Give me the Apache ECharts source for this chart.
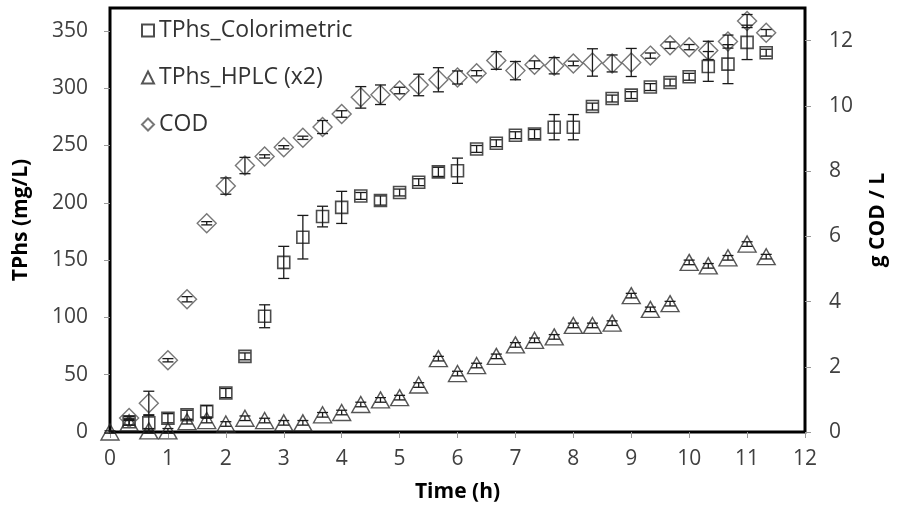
<!DOCTYPE html>
<html>
<head>
<meta charset="utf-8">
<script src="https://cdn.jsdelivr.net/npm/echarts@6/dist/echarts.min.js"></script>
<style>html,body{margin:0;padding:0;background:#fff}#c{width:899px;height:524px}</style>
</head>
<body>
<div id="c"></div>
<script>
// Time (h)
var times = [0,0.33,0.67,1,1.33,1.67,2,2.33,2.67,3,3.33,3.67,4,4.33,4.67,5,5.33,5.67,6,6.33,6.67,7,7.33,7.67,8,8.33,8.67,9,9.33,9.67,10,10.33,10.67,11,11.33];
// TPhs colorimetric (mg/L), from t=0.33
var colorTimes = [0.33,0.67,1,1.33,1.67,2,2.33,2.67,3,3.33,3.67,4,4.33,4.67,5,5.33,5.67,6,6.33,6.67,7,7.33,7.67,8,8.33,8.67,9,9.33,9.67,10,10.33,10.67,11,11.33];
var colorVals = [9,8,12,15,18,34,66,101,148,170,188,196,206,202,209,218,227,228,247,252,259,260,266,266,284,291,294,301,305,310,319,321,340,331];
var colorErr  = [3,7,4,4,5,4,3,10,14,19,9,14,3,4,3,3,4,11,3,3,3,4,11,11,3,3,3,3,3,3,13,17,15,3];
// TPhs HPLC (x2) (mg/L), from t=0
var hplcVals = [0,8,1,1,9,10,7,12,10,8,8,15,17,24,28,30,41,64,51,58,66,76,80,83,93,93,95,119,107,112,148,145,152,164,153];
var hplcErr  = [1,2,2,2,2,2,2,2,2,2,2,2,2,2,2,2,2,2,2,2,2,2,2,2,2,2,2,2,2,2,2,2,2,2,2];
// COD (g/L), from t=0.33
var codVals = [0.43,0.88,2.2,4.07,6.4,7.54,8.17,8.45,8.73,9.02,9.35,9.75,10.26,10.34,10.47,10.64,10.8,10.87,11.0,11.39,11.08,11.26,11.23,11.3,11.33,11.3,11.33,11.54,11.86,11.8,11.7,11.97,12.6,12.24];
var codErr  = [0.05,0.37,0.05,0.08,0.05,0.25,0.25,0.05,0.05,0.05,0.2,0.1,0.33,0.3,0.1,0.33,0.37,0.2,0.08,0.27,0.28,0.12,0.25,0.07,0.42,0.26,0.43,0.08,0.1,0.08,0.28,0.2,0.2,0.1];
// Tick labels
var xTicks = [0,1,2,3,4,5,6,7,8,9,10,11,12];
var leftTicks = [0,50,100,150,200,250,300,350];
var rightTicks = [0,2,4,6,8,10,12];
var seriesNames = ['TPhs_Colorimetric','TPhs_HPLC (x2)','COD'];

function pairs(xs, ys){ return xs.map(function(x,i){ return [x, ys[i]]; }); }
function triples(xs, ys, es){ return xs.map(function(x,i){ return [x, ys[i], es[i]]; }); }

function errRender(params, api){
  var x = api.value(0), y = api.value(1), e = api.value(2);
  var p1 = api.coord([x, y + e]);
  var p2 = api.coord([x, y - e]);
  var w = 5.5;
  var st = {stroke:'#1a1a1a', lineWidth:1.3};
  return {type:'group', children:[
    {type:'line', shape:{x1:p1[0], y1:p1[1], x2:p2[0], y2:p2[1]}, style:st},
    {type:'line', shape:{x1:p1[0]-w, y1:p1[1], x2:p1[0]+w, y2:p1[1]}, style:st},
    {type:'line', shape:{x1:p2[0]-w, y1:p2[1], x2:p2[0]+w, y2:p2[1]}, style:st}
  ]};
}

var font = 'Open Sans';
var chart = echarts.init(document.getElementById('c'), null, {renderer:'canvas'});
chart.setOption({
  animation:false,
  backgroundColor:'#fff',
  grid:{left:110, right:94, top:8, bottom:92, show:true, borderColor:'#000', borderWidth:3, backgroundColor:'transparent'},
  legend:{
    orient:'vertical', left:136, top:14, itemGap:24, itemWidth:12, itemHeight:12,
    textStyle:{fontFamily:font, fontSize:23, color:'#333'},
    data:[{name:seriesNames[0], icon:'rect'},{name:seriesNames[1], icon:'triangle'},{name:seriesNames[2], icon:'diamond'}]
  },
  xAxis:{
    type:'value', min:0, max:12, interval:1,
    name:'Time (h)', nameLocation:'middle', nameGap:50,
    nameTextStyle:{fontFamily:font, fontSize:21, fontWeight:'bold', color:'#000'},
    axisLine:{show:false}, splitLine:{show:false},
    axisTick:{show:true, inside:false, length:6, lineStyle:{color:'#999', width:1}},
    axisLabel:{fontFamily:font, fontSize:21, color:'#404040', margin:17, customValues:xTicks}
  },
  yAxis:[{
    type:'value', min:0, max:370, interval:50, position:'left',
    name:'TPhs (mg/L)', nameLocation:'middle', nameGap:78, nameRotate:90,
    nameTextStyle:{fontFamily:font, fontSize:21, fontWeight:'bold', color:'#000'},
    axisLine:{show:false}, splitLine:{show:false},
    axisTick:{show:true, inside:false, length:6, lineStyle:{color:'#999', width:1}, customValues:leftTicks},
    axisLabel:{fontFamily:font, fontSize:21, color:'#404040', margin:22, customValues:leftTicks}
  },{
    type:'value', min:0, max:13, interval:2, position:'right',
    name:'g COD / L', nameLocation:'middle', nameGap:63, nameRotate:90,
    nameTextStyle:{fontFamily:font, fontSize:21, fontWeight:'bold', color:'#000'},
    axisLine:{show:false}, splitLine:{show:false},
    axisTick:{show:true, inside:false, length:6, lineStyle:{color:'#999', width:1}, customValues:rightTicks},
    axisLabel:{fontFamily:font, fontSize:21, color:'#404040', margin:24, customValues:rightTicks}
  }],
  series:[
    {name:seriesNames[0], type:'scatter', yAxisIndex:0, symbol:'rect', symbolSize:12, z:3,
     itemStyle:{color:'rgba(255,255,255,0)', borderColor:'#1f1f1f', borderWidth:1.6},
     data:pairs(colorTimes, colorVals)},
    {name:seriesNames[1], type:'scatter', yAxisIndex:0, symbol:'triangle', symbolSize:[18,16], z:3,
     itemStyle:{color:'rgba(255,255,255,0)', borderColor:'#2a2a2a', borderWidth:1.4},
     data:pairs(times, hplcVals)},
    {name:seriesNames[2], type:'scatter', yAxisIndex:1, symbol:'diamond', symbolSize:[19,19], z:3,
     itemStyle:{color:'rgba(255,255,255,0)', borderColor:'#555', borderWidth:1.4},
     data:pairs(colorTimes, codVals)},
    {type:'custom', yAxisIndex:0, renderItem:errRender, clip:false, z:4, silent:true,
     encode:{x:0, y:1}, data:triples(colorTimes, colorVals, colorErr)},
    {type:'custom', yAxisIndex:0, renderItem:errRender, clip:false, z:4, silent:true,
     encode:{x:0, y:1}, data:triples(times, hplcVals, hplcErr)},
    {type:'custom', yAxisIndex:1, renderItem:errRender, clip:false, z:4, silent:true,
     encode:{x:0, y:1}, data:triples(colorTimes, codVals, codErr)}
  ]
});
</script>
</body>
</html>
